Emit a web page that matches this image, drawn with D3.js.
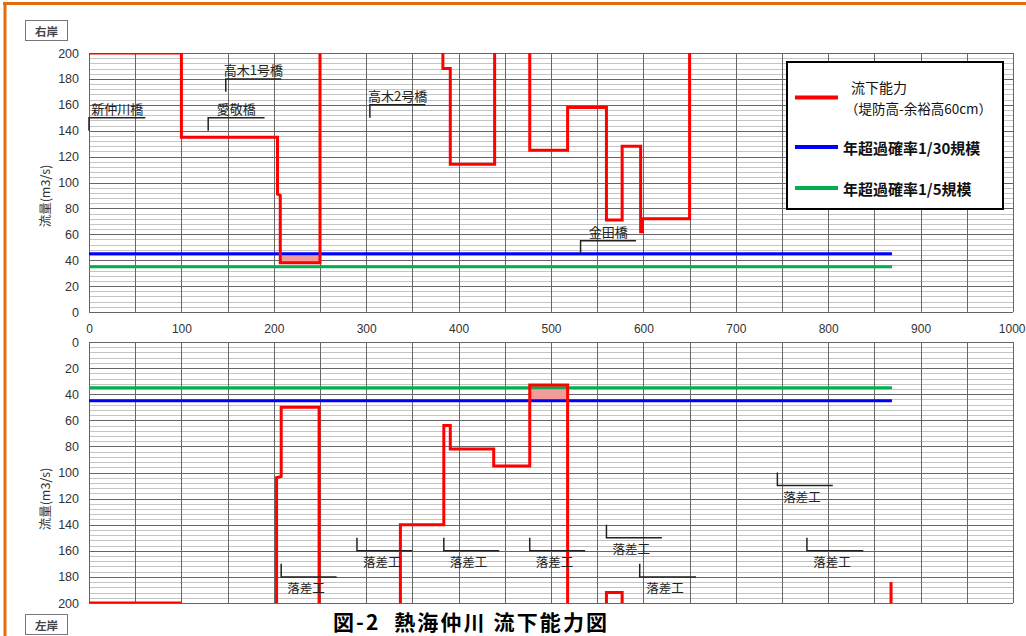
<!DOCTYPE html>
<html><head><meta charset="utf-8">
<script src="https://cdn.jsdelivr.net/npm/d3@7"></script>
<style>
body{margin:0;background:#fff;}
svg{display:block;font-family:"Liberation Sans",Arial,sans-serif;}
.jp{font-family:"Noto Sans CJK JP",sans-serif;}
</style></head><body>
<svg id="chart" width="1026" height="636"></svg>
<script>
// ---- axis ticks ----
const distanceTicks = [0, 100, 200, 300, 400, 500, 600, 700, 800, 900, 1000];
const flowTicks = [0, 20, 40, 60, 80, 100, 120, 140, 160, 180, 200];

// ---- design discharges (m3/s) and their extent along the river (m) ----
const flow30 = 45;          // 年超過確率1/30規模
const flow5 = 35;           // 年超過確率1/5規模
const designExtent = [0, 869];

// ---- flow capacity, right bank (null = line leaves the chart above 200) ----
const rightDist = [0, 100, 100, 204, 204, 207, 207, 250, 250, null,
  383, 383, 391, 391, 439, 439, null,
  477, 477, 518, 518, 560, 560, 577, 577, 597, 597, 599, 599, 650, 650];
const rightCap = [200, 200, 135, 135, 91, 90, 38, 38, 200, null,
  200, 188, 188, 114, 114, 200, null,
  200, 125, 125, 158, 158, 71, 71, 128, 128, 62, 62, 72, 72, 200];

// ---- flow capacity, left bank ----
const leftDist = [0, 100, null, 203, 203, 208, 208, 249, 249, null,
  337, 337, 384, 384, 391, 391, 438, 438, 477, 477, 518, 518, null,
  560, 560, 577, 577, null, 868, 868];
const leftCap = [200, 200, null, 200, 104, 103, 50, 50, 200, null,
  200, 140, 140, 64, 64, 82, 82, 95, 95, 33, 33, 200, null,
  200, 192, 192, 200, null, 200, 184];

// ---- sections short of the 1/30 discharge: [from, to, capacity] ----
const rightShortfall = [[207, 250, 38]];
const leftShortfall = [[477, 518, 33]];

// ---- bridges on the right bank ----
const bridgeNames = ["新仲川橋", "高木1号橋", "愛敬橋", "高木2号橋", "金田橋"];
const bridgeStart = [0, 148, 129, 304, 532];
const bridgeEnd = [61, 208, 190, 364, 592];
const bridgeLevel = [150, 180, 150, 160, 55];

// ---- drop structures on the left bank ----
const dropName = "落差工";
const dropStart = [208, 290, 384, 477, 560, 596, 745, 777];
const dropEnd = [268, 350, 444, 537, 620, 657, 805, 838];
const dropLevel = [170, 150, 150, 150, 140, 170, 100, 150];

// ---- legend ----
const legendColors = ["#ff0000", "#0000ff", "#00b050"];

const svg = d3.select("#chart");
const RED = legendColors[0], BLUE = legendColors[1], GREEN = legendColors[2];

// frame
svg.append("line").attr("x1", 3).attr("x2", 1026).attr("y1", 3.5).attr("y2", 3.5)
  .attr("stroke", "#e46c0a").attr("stroke-width", 3);
svg.append("line").attr("x1", 5).attr("x2", 5).attr("y1", 2).attr("y2", 636)
  .attr("stroke", "#e46c0a").attr("stroke-width", 3);

const x = d3.scaleLinear().domain([0, 1000]).range([89, 1013]);
const yTop = d3.scaleLinear().domain([0, 200]).range([312, 53]);
const yBot = d3.scaleLinear().domain([0, 200]).range([342, 603]);

function zip(a, b) { return a.map((d, i) => [d, b[i]]); }

function panel(id, y, dist, cap, shortfall, showX, titleY) {
  const g = svg.append("g");
  const [y0, y1] = d3.extent(y.range());
  const x0 = x.range()[0], x1 = x.range()[1];

  g.append("clipPath").attr("id", id).append("rect")
    .attr("x", x0).attr("y", y0).attr("width", x1 - x0).attr("height", y1 - y0);

  // minor horizontal grid
  g.append("g").selectAll("line").data(d3.range(0, 201, 4).filter(v => v % 20))
    .join("line").attr("x1", x0).attr("x2", x1)
    .attr("y1", d => Math.round(y(d)) + 0.5).attr("y2", d => Math.round(y(d)) + 0.5)
    .attr("stroke", "#c4c4c4").attr("stroke-width", 1);
  // major horizontal grid
  g.append("g").selectAll("line").data(flowTicks)
    .join("line").attr("x1", x0).attr("x2", x1)
    .attr("y1", d => Math.round(y(d)) + 0.5).attr("y2", d => Math.round(y(d)) + 0.5)
    .attr("stroke", "#666").attr("stroke-width", 1);
  // vertical grid
  g.append("g").selectAll("line").data(d3.range(0, 1001, 50))
    .join("line").attr("y1", y0).attr("y2", y1)
    .attr("x1", d => Math.round(x(d)) + 0.5).attr("x2", d => Math.round(x(d)) + 0.5)
    .attr("stroke", "#666").attr("stroke-width", 1);

  // y axis labels
  const ay = g.append("g").attr("transform", `translate(${x0},0)`)
    .call(d3.axisLeft(y).tickValues(flowTicks).tickSize(0).tickPadding(10));
  ay.select(".domain").remove();
  ay.selectAll("text").attr("font-size", 12.5).attr("fill", "#333")
    .attr("font-family", "Liberation Sans, Arial, sans-serif");

  if (showX) {
    const ax = g.append("g").attr("transform", `translate(0,${y1})`)
      .call(d3.axisBottom(x).tickValues(distanceTicks).tickFormat(d3.format("d"))
        .tickSize(0).tickPadding(12));
    ax.select(".domain").remove();
    ax.selectAll("text").attr("font-size", 12).attr("fill", "#333")
      .attr("font-family", "Liberation Sans, Arial, sans-serif");
    // keep the last label inside the page
    ax.selectAll("text").filter(d => d === distanceTicks[distanceTicks.length - 1])
      .attr("text-anchor", "end").attr("x", 12);
  }

  const clipped = g.append("g").attr("clip-path", `url(#${id})`);

  // shortfall against the 1/30 discharge
  clipped.selectAll("rect.short").data(shortfall).join("rect").attr("class", "short")
    .attr("x", d => x(d[0])).attr("width", d => x(d[1]) - x(d[0]))
    .attr("y", d => Math.min(y(d[2]), y(flow30)))
    .attr("height", d => Math.abs(y(d[2]) - y(flow30)))
    .attr("fill", "#f39a9a");

  // design discharges
  [[flow5, GREEN], [flow30, BLUE]].forEach(([q, c]) => {
    clipped.append("line").attr("x1", x(designExtent[0])).attr("x2", x(designExtent[1]))
      .attr("y1", y(q)).attr("y2", y(q)).attr("stroke", c).attr("stroke-width", 3);
  });

  // flow capacity
  const line = d3.line().defined(d => d[0] !== null).x(d => x(d[0])).y(d => y(d[1]));
  clipped.append("path").datum(zip(dist, cap)).attr("d", line)
    .attr("fill", "none").attr("stroke", RED).attr("stroke-width", 3)
    .attr("stroke-linejoin", "miter");

  // y title
  g.append("text").attr("class", "jp")
    .attr("transform", `translate(44,${titleY}) rotate(-90)`)
    .attr("text-anchor", "middle").attr("dominant-baseline", "central")
    .attr("font-size", 12.5).attr("fill", "#333").text("流量(m3/s)");
  return g;
}

const gTop = panel("clipTop", yTop, rightDist, rightCap, rightShortfall, true, 196);
const gBot = panel("clipBot", yBot, leftDist, leftCap, leftShortfall, false, 499);

// bridge markers (right bank)
bridgeNames.forEach((name, i) => {
  const xs = x(bridgeStart[i]), xe = x(bridgeEnd[i]);
  const yl = yTop(bridgeLevel[i]), yt = yTop(bridgeLevel[i] - 10);
  gTop.append("path").attr("d", `M${xs},${yt}V${yl}H${xe}`)
    .attr("fill", "none").attr("stroke", "#222").attr("stroke-width", 1.5);
  gTop.append("text").attr("class", "jp").attr("x", (xs + xe) / 2).attr("y", yl - 4)
    .attr("text-anchor", "middle").attr("font-size", 13).attr("fill", "#222").text(name);
});

// drop structure markers (left bank)
dropStart.forEach((d, i) => {
  const xs = x(d), xe = x(dropEnd[i]);
  const yt = yBot(dropLevel[i]), yl = yBot(dropLevel[i] + 10);
  gBot.append("path").attr("d", `M${xs},${yt}V${yl}H${xe}`)
    .attr("fill", "none").attr("stroke", "#222").attr("stroke-width", 1.5);
  gBot.append("text").attr("class", "jp").attr("x", (xs + xe) / 2 - 3).attr("y", yl + 11)
    .attr("text-anchor", "middle").attr("dominant-baseline", "central")
    .attr("font-size", 12.5).attr("fill", "#222").text(dropName);
});

// bank tags
[["右岸", 20], ["左岸", 614]].forEach(([t, top]) => {
  svg.append("rect").attr("x", 25.5).attr("y", top + 0.5).attr("width", 42).attr("height", 20)
    .attr("fill", "#fff").attr("stroke", "#777").attr("stroke-width", 1);
  svg.append("text").attr("class", "jp").attr("x", 46.5).attr("y", top + 10.5)
    .attr("text-anchor", "middle").attr("dominant-baseline", "central")
    .attr("font-size", 11.5).attr("font-weight", "bold").attr("fill", "#444").text(t);
});

// legend
const lg = svg.append("g");
lg.append("rect").attr("x", 787).attr("y", 62).attr("width", 216).attr("height", 147)
  .attr("fill", "#fff").attr("stroke", "#000").attr("stroke-width", 2);
const legendY = [97.5, 147, 188];
legendColors.forEach((c, i) => {
  lg.append("line").attr("x1", 795).attr("x2", 838).attr("y1", legendY[i]).attr("y2", legendY[i])
    .attr("stroke", c).attr("stroke-width", 4);
});
lg.append("text").attr("class", "jp").attr("x", 851).attr("y", 87).attr("dominant-baseline", "central")
  .attr("font-size", 14).attr("fill", "#111").text("流下能力");
lg.append("text").attr("class", "jp").attr("x", 845).attr("y", 108).attr("dominant-baseline", "central")
  .attr("font-size", 13.5).attr("fill", "#111").text("（堤防高-余裕高60cm）");
lg.append("text").attr("class", "jp").attr("x", 843).attr("y", 147).attr("dominant-baseline", "central")
  .attr("font-size", 15).attr("font-weight", "bold").attr("fill", "#111").text("年超過確率1/30規模");
lg.append("text").attr("class", "jp").attr("x", 843).attr("y", 188).attr("dominant-baseline", "central")
  .attr("font-size", 15).attr("font-weight", "bold").attr("fill", "#111").text("年超過確率1/5規模");

// title
svg.append("text").attr("class", "jp").attr("x", 333).attr("y", 630)
  .attr("font-size", 21).attr("font-weight", "bold").attr("fill", "#000")
  .attr("textLength", 274).attr("lengthAdjust", "spacing")
  .style("white-space", "pre")
  .text("図-2  熱海仲川 流下能力図");
</script>
</body></html>
